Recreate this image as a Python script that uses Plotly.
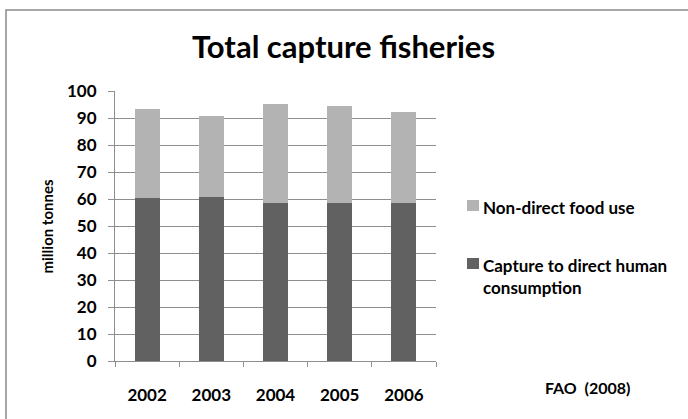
import plotly.graph_objects as go

# ---- data ----
years = ["2002", "2003", "2004", "2005", "2006"]
direct_consumption = [60.2, 60.8, 58.6, 58.6, 58.6]
non_direct_food = [33.0, 29.8, 36.5, 35.8, 33.7]
y_ticks = [0, 10, 20, 30, 40, 50, 60, 70, 80, 90, 100]

title_text = "Total capture fisheries"
y_title = "million tonnes"
# \u200c prevents the "ti" ligature of Lato
series_names = ["Non-direct food use", "Capture to direct human<br>consump\u200ction"]
source_text = "FAO\u00a0 (2008)"

DARK = "#616161"
LIGHT = "#B3B3B3"
GRID = "#8E8E8E"
FONT = "Lato, 'DejaVu Sans', sans-serif"

W, H = 688, 419
L, R, T, B = 115, 252, 91, 58
PW, PH = W - L - R, H - T - B


def px(x):
    return (x - L) / PW


def py(y):
    return (H - B - y) / PH


fig = go.Figure()
fig.add_trace(go.Bar(x=years, y=direct_consumption, name="Capture to direct human consumption",
                     marker=dict(color=DARK, line=dict(width=0)), showlegend=False))
fig.add_trace(go.Bar(x=years, y=non_direct_food, name="Non-direct food use",
                     marker=dict(color=LIGHT, line=dict(width=0)), showlegend=False))

fig.update_layout(
    width=W, height=H,
    margin=dict(l=L, r=R, t=T, b=B, pad=0),
    barmode="stack", bargap=0.61,
    plot_bgcolor="white", paper_bgcolor="white",
    font=dict(family=FONT, color="black"),
    showlegend=False,
)
fig.update_yaxes(
    range=[0, 100], tickvals=y_ticks, showgrid=True, gridcolor=GRID, gridwidth=1,
    showline=True, linecolor=GRID, linewidth=1, ticks="outside", ticklen=6, tickcolor=GRID,
    tickfont=dict(family=FONT, size=17, weight="bold", color="black"),
    ticklabelstandoff=8, zeroline=False,
)
fig.update_xaxes(
    showline=True, linecolor=GRID, linewidth=1, ticks="outside", ticklen=5, tickcolor=GRID,
    tickson="boundaries", showgrid=False,
    tickfont=dict(family=FONT, size=17, weight="bold", color="black"),
    ticklabelstandoff=19,
)

shapes = [
    dict(type="rect", xref="paper", yref="paper", x0=px(6), x1=px(720), y0=py(440), y1=py(10),
         line=dict(color="#8A8A8A", width=1.5), fillcolor="rgba(0,0,0,0)", layer="below"),
    dict(type="rect", xref="paper", yref="paper", x0=px(467), x1=px(479), y0=py(211), y1=py(200),
         line=dict(width=0), fillcolor=LIGHT),
    dict(type="rect", xref="paper", yref="paper", x0=px(467), x1=px(479), y0=py(269), y1=py(258),
         line=dict(width=0), fillcolor=DARK),
]

annotations = [
    dict(text=f"<b>{title_text}</b>", xref="paper", yref="paper", x=px(343), y=py(46),
         xanchor="center", yanchor="middle", showarrow=False, font=dict(family=FONT, size=31)),
    dict(text=f"<b>{y_title}</b>", xref="paper", yref="paper", x=px(46.5), y=py(227),
         textangle=-90, xanchor="center", yanchor="middle", showarrow=False,
         font=dict(family=FONT, size=15)),
    dict(text=f"<b>{series_names[0]}</b>", xref="paper", yref="paper", x=px(482), y=py(207),
         xanchor="left", yanchor="middle", showarrow=False, align="left",
         font=dict(family=FONT, size=17), borderpad=0),
    dict(text=f"<b>{series_names[1]}</b>", xref="paper", yref="paper", x=px(482), y=py(276.5),
         xanchor="left", yanchor="middle", showarrow=False, align="left",
         font=dict(family=FONT, size=17), borderpad=0),
    dict(text=f"<b>{source_text}</b>", xref="paper", yref="paper", x=px(544), y=py(387),
         xanchor="left", yanchor="middle", showarrow=False, align="left",
         font=dict(family=FONT, size=16), borderpad=0),
]
fig.update_layout(shapes=shapes, annotations=annotations)

fig.write_html("out.html", config={"displayModeBar": False},
               post_script="document.body.style.margin='0';")
